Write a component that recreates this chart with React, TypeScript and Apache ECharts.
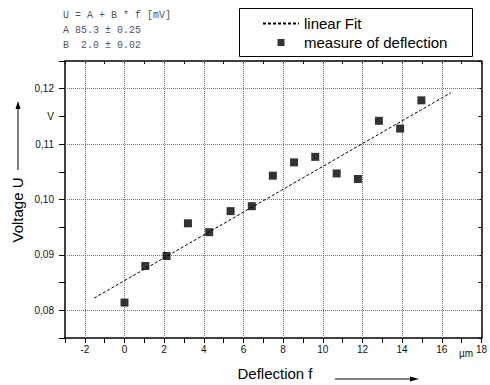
import React, { useEffect, useRef } from "react";
import * as echarts from "echarts";

const deflection = [0, 1.05, 2.12, 3.2, 4.27, 5.35, 6.42, 7.48, 8.55, 9.62, 10.7, 11.77, 12.83, 13.9, 14.97];
const voltage = [0.0814, 0.088, 0.0898, 0.0957, 0.0941, 0.0979, 0.0988, 0.1043, 0.1067, 0.1077, 0.1047, 0.1037, 0.1142, 0.1128, 0.1179];
const fitF = [-1.53, 16.47];
const fitU = [0.0822, 0.1193];
const xGrid = [-2, 0, 2, 4, 6, 8, 10, 12, 14, 16];
const yGrid = [0.08, 0.09, 0.1, 0.11, 0.12];
const annotationLines = ["U = A + B * f [mV]", "A 85.3 \u00b1 0.25", "B  2.0 \u00b1 0.02"];
const legendNames = ["linear Fit", "measure of deflection"];

const FONT = 'Arial, "Liberation Sans", sans-serif';

export default function App() {
  const ref = useRef<HTMLDivElement>(null);
  useEffect(() => {
    document.body.style.margin = "0";
    const chart = echarts.init(ref.current!, null, { renderer: "svg" });
    const axisLine = { show: true, onZero: false, lineStyle: { color: "#000", width: 1.5 } };
    const option: any = {
      animation: false,
      backgroundColor: "#fff",
      grid: { left: 65, right: 5, top: 61, bottom: 47, containLabel: false },
      legend: {
        orient: "vertical",
        left: 262,
        top: 16,
        padding: 0,
        itemGap: 4,
        itemWidth: 36,
        itemHeight: 7,
        textStyle: { fontFamily: FONT, fontSize: 15, color: "#000" },
        data: [
          { name: legendNames[0], itemStyle: { opacity: 0 } },
          { name: legendNames[1], icon: "path://M0 0M36 7M14.5 0h7v7h-7z" },
        ],
        selectedMode: false,
      },
      xAxis: [
        {
          type: "value",
          min: -3,
          max: 18,
          interval: 1,
          position: "bottom",
          axisLine,
          axisTick: { show: true, inside: false, length: 5, lineStyle: { color: "#000", width: 1 } },
          axisLabel: {
            margin: 6,
            fontFamily: FONT,
            fontSize: 10,
            color: "#111",
            formatter: (v: number) => (Math.round(v) % 2 === 0 ? String(Math.round(v)) : ""),
          },
          splitLine: { show: false },
        },
        {
          type: "value",
          min: -3,
          max: 18,
          interval: 1,
          position: "top",
          axisLine,
          axisTick: { show: true, inside: true, length: 3, lineStyle: { color: "#000", width: 1 } },
          axisLabel: { show: false },
          splitLine: { show: false },
        },
      ],
      yAxis: [
        {
          type: "value",
          min: 0.075,
          max: 0.125,
          interval: 0.005,
          position: "left",
          axisLine,
          axisTick: { show: true, inside: false, length: 6, lineStyle: { color: "#000", width: 1 } },
          axisLabel: {
            margin: 11,
            fontFamily: FONT,
            fontSize: 10,
            color: "#111",
            formatter: (v: number) => {
              const k = Math.round(v * 1000);
              if (k === 115) return "V";
              if (k % 10 === 0) return (k / 1000).toFixed(2).replace(".", ",");
              return "";
            },
          },
          splitLine: { show: false },
        },
        {
          type: "value",
          min: 0.075,
          max: 0.125,
          interval: 0.005,
          position: "right",
          axisLine,
          axisTick: { show: true, inside: true, length: 3, lineStyle: { color: "#000", width: 1 } },
          axisLabel: { show: false },
          splitLine: { show: false },
        },
      ],
      series: [
        {
          name: legendNames[0],
          type: "line",
          xAxisIndex: 0,
          yAxisIndex: 0,
          data: fitF.map((f, i) => [f, fitU[i]]),
          symbol: "none",
          z: 2,
          lineStyle: { color: "#000", width: 1, type: [3, 2] },
          itemStyle: { color: "#000" },
          markLine: {
            silent: true,
            symbol: ["none", "none"],
            label: { show: false },
            lineStyle: { color: "#777", width: 1, type: "dotted" },
            data: [...xGrid.map((v) => ({ xAxis: v })), ...yGrid.map((v) => ({ yAxis: v }))],
            z: 1,
          },
        },
        {
          name: legendNames[1],
          type: "scatter",
          xAxisIndex: 0,
          yAxisIndex: 0,
          data: deflection.map((f, i) => [f, voltage[i]]),
          symbol: "rect",
          symbolSize: 8,
          z: 3,
          itemStyle: { color: "#000" },
        },
      ],
      graphic: [
        ...annotationLines.map((t, i) => ({
          type: "text",
          x: 63,
          y: 15 + i * 15,
          style: {
            text: t,
            fontFamily: '"Liberation Mono", "DejaVu Sans Mono", monospace',
            fontSize: 10,
            fill: "#555",
            verticalAlign: "middle",
          },
        })),
        {
          type: "rect",
          shape: { x: 239.5, y: 8.5, width: 233, height: 48 },
          style: { fill: "none", stroke: "#000", lineWidth: 1 },
          z: -1,
        },
        {
          type: "text",
          x: 17,
          y: 210,
          rotation: Math.PI / 2,
          style: {
            text: "Voltage U",
            fontFamily: FONT,
            fontSize: 15,
            fill: "#000",
            align: "center",
            verticalAlign: "middle",
          },
        },
        { type: "line", shape: { x1: 18, y1: 170, x2: 18, y2: 107 }, style: { stroke: "#000", lineWidth: 1 } },
        { type: "polygon", shape: { points: [[18, 101], [15.5, 109], [20.5, 109]] }, style: { fill: "#000" } },
        {
          type: "text",
          x: 275,
          y: 373,
          style: {
            text: "Deflection f",
            fontFamily: FONT,
            fontSize: 15,
            fill: "#000",
            align: "center",
            verticalAlign: "middle",
          },
        },
        { type: "line", shape: { x1: 335, y1: 379, x2: 412, y2: 379 }, style: { stroke: "#000", lineWidth: 1 } },
        { type: "polygon", shape: { points: [[419, 379], [410, 376.5], [410, 381.5]] }, style: { fill: "#000" } },
        {
          type: "text",
          x: 466,
          y: 353,
          style: {
            text: "\u00b5m",
            fontFamily: FONT,
            fontSize: 10,
            fill: "#111",
            align: "center",
            verticalAlign: "middle",
          },
        },
      ],
    };
    chart.setOption(option);
    return () => chart.dispose();
  }, []);
  return <div ref={ref} style={{ position: "fixed", left: 0, top: 0, width: 490, height: 385 }} />;
}
